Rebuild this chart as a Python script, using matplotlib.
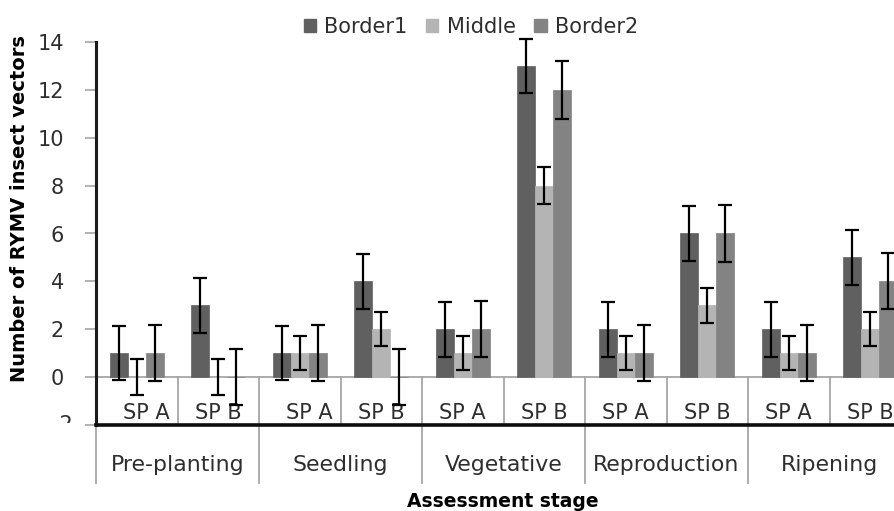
import matplotlib
matplotlib.use("Agg")
import matplotlib.pyplot as plt
from matplotlib.patches import Patch
from matplotlib.transforms import Bbox, TransformedBbox, IdentityTransform
import matplotlib.transforms as mtrans
import numpy as np

# ---------------- data ----------------
stages = ['Pre-planting', 'Seedling', 'Vegetative', 'Reproduction', 'Ripening']
sub_labels = ['SP A', 'SP B']
series_names = ['Border1', 'Middle', 'Border2']
border1 = [1, 3, 1, 4, 2, 13, 2, 6, 2, 5]
middle = [0, 0, 1, 2, 1, 8, 1, 3, 1, 2]
border2 = [1, 0, 1, 0, 2, 12, 1, 6, 1, 4]
border1_err = [1.13, 1.14, 1.13, 1.14, 1.15, 1.14, 1.15, 1.14, 1.15, 1.14]
middle_err = [0.75, 0.75, 0.72, 0.72, 0.72, 0.76, 0.72, 0.72, 0.72, 0.72]
border2_err = [1.18, 1.17, 1.18, 1.17, 1.18, 1.20, 1.18, 1.19, 1.18, 1.17]
y_ticks = [-2, 0, 2, 4, 6, 8, 10, 12, 14]

# ---------------- style ----------------
plt.rcParams['font.family'] = ['DejaVu Sans']
TXT = '#2e2e2e'
GRID = '#a6a6a6'
colors = ['#606060', '#b4b4b4', '#838383']
FS = 15

W, H = 894, 511
fig = plt.figure(figsize=(W / 100, H / 100), dpi=100)
ax_left, ax_right, ax_top, ax_bottom = 96, 894, 42, 425
ax = fig.add_axes([ax_left / W, (H - ax_bottom) / H,
                   (ax_right - ax_left) / W, (ax_bottom - ax_top) / H])

n = len(border1)
cat_px = 81.5
x = np.arange(n)
ax.set_xlim(-0.5, -0.5 + (ax_right - ax_left) / cat_px)
ax.set_ylim(-2, 14)

bw = 0.221
vals = [border1, middle, border2]
errs = [border1_err, middle_err, border2_err]
for k in range(3):
    pos = x + (k - 1) * bw
    ax.bar(pos, vals[k], width=bw, color=colors[k], edgecolor=colors[k],
           linewidth=0.5, zorder=2)
for k in range(3):
    pos = x + (k - 1) * bw
    ax.errorbar(pos, vals[k], yerr=errs[k], fmt='none', ecolor='black',
                elinewidth=1.6, capsize=5, capthick=1.6, zorder=5, clip_on=False)

# zero line
ax.axhline(0, color=GRID, lw=1.3, zorder=1)

# spines
for s in ['top', 'right']:
    ax.spines[s].set_visible(False)
ax.spines['left'].set_linewidth(2.2)
ax.spines['left'].set_color('#1a1a1a')
ax.spines['bottom'].set_linewidth(2.6)
ax.spines['bottom'].set_color('#0d0d0d')
ax.spines['left'].set_zorder(6)
ax.spines['bottom'].set_zorder(6)

ax.set_xticks([])
ax.set_yticks(y_ticks)
ax.set_yticklabels(['' if t == -2 else str(t) for t in y_ticks],
                   fontsize=FS, color=TXT)
ax.tick_params(axis='y', length=8, width=1.2, color=GRID, pad=15)

# dividers between sub-categories (within the plot, y 0 to -2)
for b in np.arange(0.5, n - 0.5, 1.0):
    ax.plot([b, b], [0, -2], color=GRID, lw=1.3, zorder=1, clip_on=False)

# stage boundaries extending below axis
unit_px = (ax_bottom - ax_top) / 16.0
y_low = -2 - (483 - ax_bottom) / unit_px
for b in np.arange(-0.5, n, 2.0):
    ax.plot([b, b], [-2, y_low], color=GRID, lw=1.3, zorder=1, clip_on=False)

# SP labels
sp_shift = [0.12, 0, 0.12, 0, 0, 0, 0, 0, 0, 0]
y_sp = (377 - 413) / unit_px
for i in range(n):
    ax.text(x[i] + sp_shift[i], y_sp, sub_labels[i % 2], ha='center', va='center',
            fontsize=FS, color=TXT, clip_on=False)

# stage labels
y_stage = -2 - (465 - ax_bottom) / unit_px
for j, st in enumerate(stages):
    ax.text(2 * j + 0.5, y_stage, st, ha='center', va='center',
            fontsize=15.8, color=TXT, clip_on=False)

# x-axis title
fig.text(503 / W, (H - 501) / H, 'Assessment stage', ha='center', va='center',
         fontsize=13.5, fontweight='bold', color='black')

# y-axis title
fig.text(20 / W, (H - 209) / H, 'Number of RYMV insect vectors', rotation=90,
         ha='center', va='center', fontsize=14, fontweight='bold', color='black')

# partially clipped tick label -2 at the bottom
off = mtrans.offset_copy(ax.get_yaxis_transform(), fig=fig, x=-(23 * 0.72), y=0,
                         units='points')
tm2 = ax.text(0, -2, '-2', transform=off, fontsize=FS, color=TXT, ha='right', va='center')
tm2.set_clip_box(TransformedBbox(Bbox([[0, H - 423], [ax_left, H - 400]]),
                                 IdentityTransform()))
tm2.set_clip_on(True)

# legend
handles = [Patch(facecolor=c, edgecolor=c) for c in colors]
fig.legend(handles, series_names, loc='center', bbox_to_anchor=(471 / W, (H - 27) / H),
           ncol=3, frameon=False, fontsize=FS, handlelength=0.58, handleheight=0.58,
           handletextpad=0.4, columnspacing=0.9, labelcolor=TXT, borderpad=0)

fig.savefig('out.png', dpi=100)
